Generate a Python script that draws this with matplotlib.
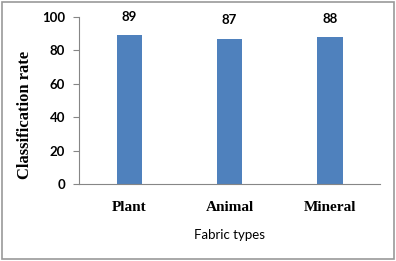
import matplotlib
matplotlib.use("Agg")
from matplotlib import pyplot as plt
from matplotlib.patches import Rectangle

# chart data
categories = ["Plant", "Animal", "Mineral"]
rates = [89, 87, 88]
y_ticks = [0, 20, 40, 60, 80, 100]

bar_color = "#4F81BD"
axis_color = "#868686"
sans = ["Lato", "DejaVu Sans"]
serif = ["Liberation Serif", "DejaVu Serif"]

fig = plt.figure(figsize=(3.96, 2.61), dpi=100)
ax = fig.add_axes([0.1995, 0.295, 0.7605, 0.64])

x = range(len(categories))
bars = ax.bar(x, rates, width=0.25, color=bar_color)

for b, v in zip(bars, rates):
    ax.annotate(str(v), (b.get_x() + b.get_width() / 2, v),
                xytext=(0, 9), textcoords="offset points",
                ha="center", va="bottom", fontsize=9.5,
                fontweight="bold", family=sans)

ax.set_xlim(-0.5, len(categories) - 0.5)
ax.set_ylim(0, 100)
ax.set_yticks(y_ticks)
ax.set_yticklabels([str(t) for t in y_ticks], fontsize=9.5,
                   fontweight="bold", family=sans)
ax.set_xticks(list(x))
ax.set_xticklabels(categories, fontsize=11, fontweight="bold", family=serif)
ax.tick_params(axis="x", length=0, pad=12)
ax.tick_params(axis="y", length=4, color=axis_color, pad=6)

for side in ("top", "right"):
    ax.spines[side].set_visible(False)
for side in ("left", "bottom"):
    ax.spines[side].set_color(axis_color)

ax.set_ylabel("Classification rate", fontsize=12, fontweight="bold",
              family=serif)
ax.yaxis.set_label_coords(-0.153, 0.415)
ax.set_xlabel("Fabric types", fontsize=9.5, family=sans, labelpad=11)

# outer chart border
fig.patches.append(Rectangle((0.005, 0.008), 0.99, 0.984,
                             transform=fig.transFigure, fill=False,
                             edgecolor="#999999", linewidth=1.2))

fig.savefig("out.png", dpi=100)
